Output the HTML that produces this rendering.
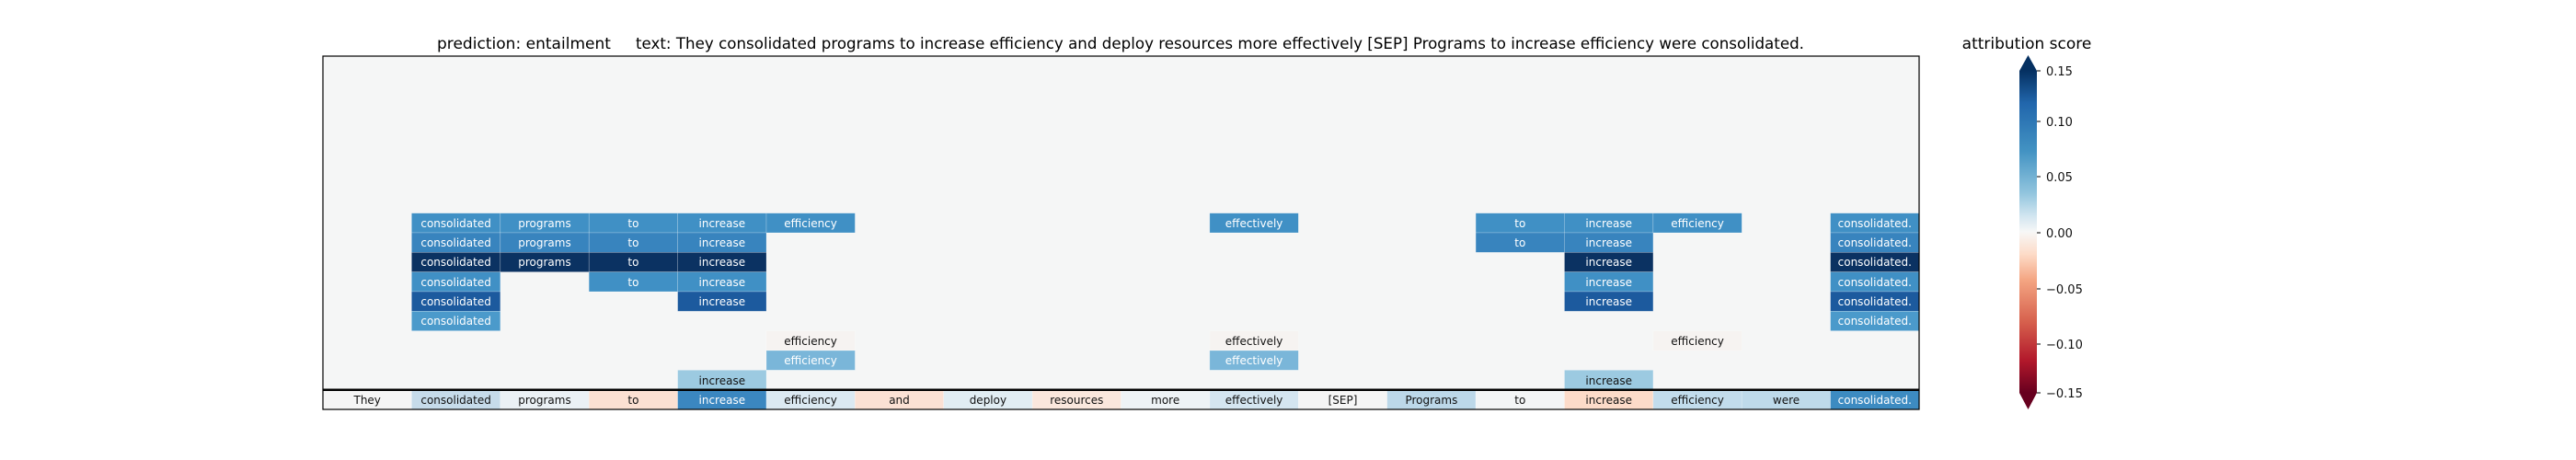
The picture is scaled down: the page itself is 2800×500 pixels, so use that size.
<!DOCTYPE html>
<html><head><meta charset="utf-8"><style>body{margin:0;background:#fff}svg{display:block}</style></head>
<body>
<svg width="2800" height="500" viewBox="0 0 2800 500" xmlns="http://www.w3.org/2000/svg" font-family="DejaVu Sans, Liberation Sans, sans-serif">
<defs>
<linearGradient id="g" x1="0" y1="0" x2="0" y2="1">
<stop offset="0" stop-color="#053061"/><stop offset="0.1" stop-color="#2166ac"/><stop offset="0.25" stop-color="#4393c3"/><stop offset="0.38" stop-color="#92c5de"/><stop offset="0.45" stop-color="#d1e5f0"/><stop offset="0.5" stop-color="#f7f7f7"/><stop offset="0.57" stop-color="#fddbc7"/><stop offset="0.65" stop-color="#f4a582"/><stop offset="0.78" stop-color="#d6604d"/><stop offset="0.9" stop-color="#b2182b"/><stop offset="1" stop-color="#67001f"/>
</linearGradient>
</defs>
<rect width="2800" height="500" fill="#fff"/>
<text x="475" y="53" font-size="17" textLength="189" lengthAdjust="spacingAndGlyphs">prediction:  entailment</text>
<text x="691" y="53" font-size="17" textLength="1270" lengthAdjust="spacingAndGlyphs">text:  They consolidated programs to increase efficiency and deploy resources more effectively [SEP] Programs to increase efficiency were consolidated.</text>
<rect x="351" y="61" width="1735" height="384" fill="#f5f6f6"/>
<g stroke="#ffffff" stroke-opacity="0.35" stroke-width="0.6">
<!-- row 8 -->
<rect x="447.4" y="231.7" width="96.4" height="21.3" fill="#4090c5"/><rect x="543.8" y="231.7" width="96.4" height="21.3" fill="#4090c5"/><rect x="640.2" y="231.7" width="96.4" height="21.3" fill="#4090c5"/><rect x="736.6" y="231.7" width="96.4" height="21.3" fill="#4090c5"/><rect x="833.0" y="231.7" width="96.4" height="21.3" fill="#4090c5"/><rect x="1314.9" y="231.7" width="96.4" height="21.3" fill="#4090c5"/><rect x="1604.1" y="231.7" width="96.4" height="21.3" fill="#4090c5"/><rect x="1700.5" y="231.7" width="96.4" height="21.3" fill="#4090c5"/><rect x="1796.9" y="231.7" width="96.4" height="21.3" fill="#4090c5"/><rect x="1989.6" y="231.7" width="96.4" height="21.3" fill="#4090c5"/>
<!-- row 9 -->
<rect x="447.4" y="253.0" width="96.4" height="21.3" fill="#3884be"/><rect x="543.8" y="253.0" width="96.4" height="21.3" fill="#3884be"/><rect x="640.2" y="253.0" width="96.4" height="21.3" fill="#3884be"/><rect x="736.6" y="253.0" width="96.4" height="21.3" fill="#3884be"/><rect x="1604.1" y="253.0" width="96.4" height="21.3" fill="#3884be"/><rect x="1700.5" y="253.0" width="96.4" height="21.3" fill="#3884be"/><rect x="1989.6" y="253.0" width="96.4" height="21.3" fill="#3884be"/>
<!-- row 10 -->
<rect x="447.4" y="274.3" width="96.4" height="21.3" fill="#0b3262"/><rect x="543.8" y="274.3" width="96.4" height="21.3" fill="#0b3262"/><rect x="640.2" y="274.3" width="96.4" height="21.3" fill="#0b3262"/><rect x="736.6" y="274.3" width="96.4" height="21.3" fill="#0b3262"/><rect x="1700.5" y="274.3" width="96.4" height="21.3" fill="#0b3262"/><rect x="1989.6" y="274.3" width="96.4" height="21.3" fill="#0b3262"/>
<!-- row 11 -->
<rect x="447.4" y="295.7" width="96.4" height="21.3" fill="#4090c5"/><rect x="640.2" y="295.7" width="96.4" height="21.3" fill="#4090c5"/><rect x="736.6" y="295.7" width="96.4" height="21.3" fill="#4090c5"/><rect x="1700.5" y="295.7" width="96.4" height="21.3" fill="#4090c5"/><rect x="1989.6" y="295.7" width="96.4" height="21.3" fill="#4090c5"/>
<!-- row 12 -->
<rect x="447.4" y="317.0" width="96.4" height="21.3" fill="#1c5a9e"/><rect x="736.6" y="317.0" width="96.4" height="21.3" fill="#1c5a9e"/><rect x="1700.5" y="317.0" width="96.4" height="21.3" fill="#1c5a9e"/><rect x="1989.6" y="317.0" width="96.4" height="21.3" fill="#1c5a9e"/>
<!-- row 13 -->
<rect x="447.4" y="338.3" width="96.4" height="21.3" fill="#4b9acb"/><rect x="1989.6" y="338.3" width="96.4" height="21.3" fill="#4b9acb"/>
<!-- row 14 -->
<rect x="833.0" y="359.7" width="96.4" height="21.3" fill="#f6f3f1"/><rect x="1314.9" y="359.7" width="96.4" height="21.3" fill="#f6f3f1"/><rect x="1796.9" y="359.7" width="96.4" height="21.3" fill="#f6f3f1"/>
<!-- row 15 -->
<rect x="833.0" y="381.0" width="96.4" height="21.3" fill="#7ab6d9"/><rect x="1314.9" y="381.0" width="96.4" height="21.3" fill="#7ab6d9"/>
<!-- row 16 -->
<rect x="736.6" y="402.3" width="96.4" height="21.3" fill="#9ccae1"/><rect x="1700.5" y="402.3" width="96.4" height="21.3" fill="#9ccae1"/>
<!-- base row -->
<rect x="351" y="423.7" width="96.4" height="21.3" fill="#f5f5f5"/><rect x="447.4" y="423.7" width="96.4" height="21.3" fill="#c6dbea"/><rect x="543.8" y="423.7" width="96.4" height="21.3" fill="#ebf1f5"/><rect x="640.2" y="423.7" width="96.4" height="21.3" fill="#fbe0d2"/><rect x="736.6" y="423.7" width="96.4" height="21.3" fill="#3b87c0"/><rect x="833.0" y="423.7" width="96.4" height="21.3" fill="#dbe9f2"/><rect x="929.3" y="423.7" width="96.4" height="21.3" fill="#fbe1d4"/><rect x="1025.7" y="423.7" width="96.4" height="21.3" fill="#e1edf3"/><rect x="1122.1" y="423.7" width="96.4" height="21.3" fill="#fae7dd"/><rect x="1218.5" y="423.7" width="96.4" height="21.3" fill="#eef3f6"/><rect x="1314.9" y="423.7" width="96.4" height="21.3" fill="#d4e5f0"/><rect x="1411.3" y="423.7" width="96.4" height="21.3" fill="#f5f5f5"/><rect x="1507.7" y="423.7" width="96.4" height="21.3" fill="#bcd8e9"/><rect x="1604.1" y="423.7" width="96.4" height="21.3" fill="#f3f5f6"/><rect x="1700.5" y="423.7" width="96.4" height="21.3" fill="#fcdbc9"/><rect x="1796.9" y="423.7" width="96.4" height="21.3" fill="#c2dcec"/><rect x="1893.2" y="423.7" width="96.4" height="21.3" fill="#bedaea"/><rect x="1989.6" y="423.7" width="96.4" height="21.3" fill="#3d8bc1"/>
</g>
<g font-size="12" text-anchor="middle" fill="#fff">
<text x="495.6" y="247">consolidated</text><text x="592.0" y="247">programs</text><text x="688.4" y="247">to</text><text x="784.8" y="247">increase</text><text x="881.1" y="247">efficiency</text><text x="1363.1" y="247">effectively</text><text x="1652.3" y="247">to</text><text x="1748.7" y="247">increase</text><text x="1845.1" y="247">efficiency</text><text x="2037.8" y="247">consolidated.</text>
<text x="495.6" y="268">consolidated</text><text x="592.0" y="268">programs</text><text x="688.4" y="268">to</text><text x="784.8" y="268">increase</text><text x="1652.3" y="268">to</text><text x="1748.7" y="268">increase</text><text x="2037.8" y="268">consolidated.</text>
<text x="495.6" y="289">consolidated</text><text x="592.0" y="289">programs</text><text x="688.4" y="289">to</text><text x="784.8" y="289">increase</text><text x="1748.7" y="289">increase</text><text x="2037.8" y="289">consolidated.</text>
<text x="495.6" y="311">consolidated</text><text x="688.4" y="311">to</text><text x="784.8" y="311">increase</text><text x="1748.7" y="311">increase</text><text x="2037.8" y="311">consolidated.</text>
<text x="495.6" y="332">consolidated</text><text x="784.8" y="332">increase</text><text x="1748.7" y="332">increase</text><text x="2037.8" y="332">consolidated.</text>
<text x="495.6" y="353">consolidated</text><text x="2037.8" y="353">consolidated.</text>
<text x="881.1" y="396">efficiency</text><text x="1363.1" y="396">effectively</text>
<text x="784.8" y="439">increase</text><text x="2037.8" y="439">consolidated.</text>
</g>
<g font-size="12" text-anchor="middle" fill="#111">
<text x="881.1" y="375">efficiency</text><text x="1363.1" y="375">effectively</text><text x="1845.1" y="375">efficiency</text>
<text x="784.8" y="418">increase</text><text x="1748.7" y="418">increase</text>
<text x="399.2" y="439">They</text><text x="495.6" y="439">consolidated</text><text x="592.0" y="439">programs</text><text x="688.4" y="439">to</text><text x="881.1" y="439">efficiency</text><text x="977.5" y="439">and</text><text x="1073.9" y="439">deploy</text><text x="1170.3" y="439">resources</text><text x="1266.7" y="439">more</text><text x="1363.1" y="439">effectively</text><text x="1459.5" y="439">[SEP]</text><text x="1555.9" y="439">Programs</text><text x="1652.3" y="439">to</text><text x="1748.7" y="439">increase</text><text x="1845.1" y="439">efficiency</text><text x="1941.5" y="439">were</text>
</g>
<line x1="351" y1="423.7" x2="2086" y2="423.7" stroke="#000" stroke-width="2.5"/>
<rect x="351" y="61" width="1735" height="384" fill="none" stroke="#000" stroke-width="1.2"/>
<!-- colorbar -->
<text x="2203" y="53" font-size="17" text-anchor="middle">attribution score</text>
<rect x="2195" y="77" width="19" height="350" fill="url(#g)"/>
<polygon points="2195,77 2214,77 2204.5,60" fill="#053061"/>
<polygon points="2195,427 2214,427 2204.5,445" fill="#67001f"/>
<g stroke="#000" stroke-width="1">
<line x1="2214" y1="77" x2="2218" y2="77"/><line x1="2214" y1="132" x2="2218" y2="132"/><line x1="2214" y1="192" x2="2218" y2="192"/><line x1="2214" y1="253" x2="2218" y2="253"/><line x1="2214" y1="314" x2="2218" y2="314"/><line x1="2214" y1="374" x2="2218" y2="374"/><line x1="2214" y1="427" x2="2218" y2="427"/>
</g>
<g font-size="13" fill="#111">
<text x="2224" y="82">0.15</text><text x="2224" y="137">0.10</text><text x="2224" y="197">0.05</text><text x="2224" y="258">0.00</text><text x="2224" y="319">−0.05</text><text x="2224" y="379">−0.10</text><text x="2224" y="432">−0.15</text>
</g>
</svg>
</body></html>
